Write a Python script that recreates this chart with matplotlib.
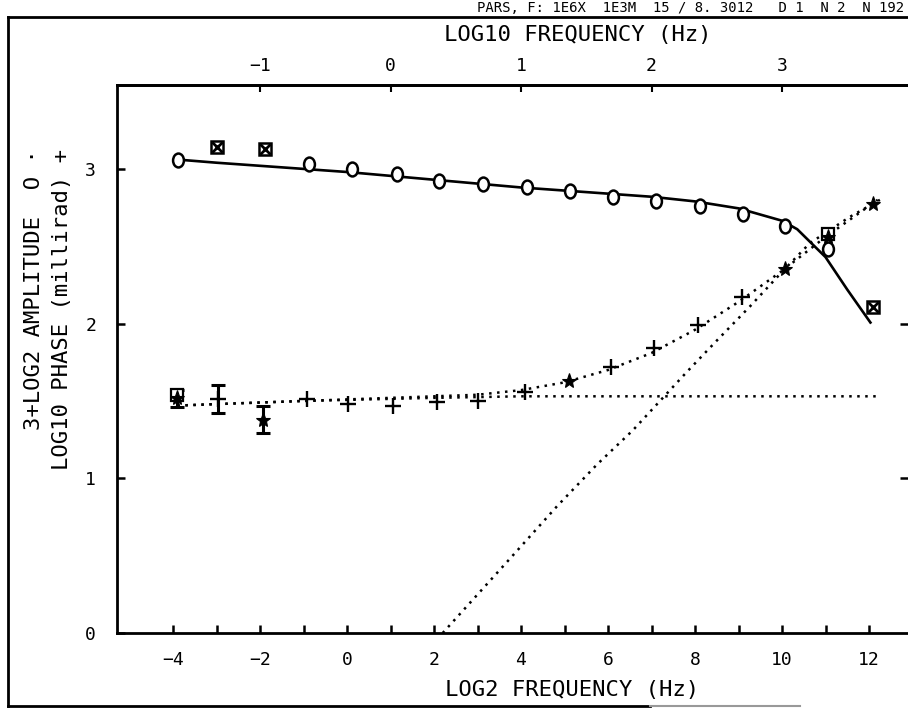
import matplotlib
matplotlib.use("Agg")
import matplotlib.pyplot as plt
from matplotlib.lines import Line2D
from matplotlib.path import Path
import numpy as np

# ---------------- data ----------------
# amplitude (3 + log2 amplitude): open circles and boxed crosses
amp_circle_x = [-3.88, -0.87, 0.11, 1.15, 2.11, 3.12, 4.13, 5.13, 6.11, 7.10, 8.11, 9.10, 10.08, 11.06]
amp_circle_y = [3.06, 3.03, 3.00, 2.97, 2.92, 2.90, 2.88, 2.86, 2.82, 2.79, 2.76, 2.71, 2.63, 2.48]
amp_box_x = [-2.99, -1.88, 12.09]
amp_box_y = [3.14, 3.13, 2.11]

# amplitude fit (solid line)
amp_fit_x = [-3.88, -3, -2, -1, 0, 1, 2, 3, 4, 5, 6, 7, 8, 9, 10, 10.35, 11, 11.5, 12.05]
amp_fit_y = [3.06, 3.04, 3.02, 3.00, 2.98, 2.955, 2.93, 2.905, 2.88, 2.86, 2.84, 2.82, 2.79,
             2.745, 2.665, 2.61, 2.43, 2.22, 2.00]

# phase (log10 phase, millirad): plus, star, boxed symbols, error bars
phase_plus_x = [-2.97, -0.92, 0.02, 1.06, 2.07, 3.00, 4.10, 6.07, 7.06, 8.07, 9.08]
phase_plus_y = [1.51, 1.51, 1.48, 1.47, 1.49, 1.50, 1.56, 1.72, 1.84, 1.99, 2.17]
phase_star_x = [-3.90, -1.93, 5.10, 10.07, 11.06, 12.10]
phase_star_y = [1.52, 1.38, 1.63, 2.35, 2.56, 2.77]
phase_box_x = [-3.90, 11.06]
phase_box_y = [1.54, 2.58]
err_x = [-3.90, -2.97, -1.93]
err_lo = [1.46, 1.42, 1.29]
err_hi = [1.57, 1.60, 1.47]
err_mid = [1.52, 1.51, 1.38]

# phase fit (dotted), flat asymptote (dotted), linear asymptote (dotted)
phase_fit_x = [-3.9, -3, -2, -1, 0, 1, 2, 3, 4, 5, 6, 7, 8, 9, 10, 11, 12.2]
phase_fit_y = [1.47, 1.48, 1.49, 1.50, 1.51, 1.52, 1.53, 1.54, 1.57, 1.62, 1.70, 1.81, 1.96,
               2.14, 2.34, 2.56, 2.80]
flat_x = [-3.9, -1, 2, 4, 8, 12.2]
flat_y = [1.47, 1.50, 1.52, 1.53, 1.53, 1.53]
lin_x = [2.2, 3.68, 4.83, 5.75, 6.57, 7.82, 8.5, 9.26, 10.02, 10.64, 11.56, 12.25]
lin_y = [0.0, 0.46, 0.82, 1.09, 1.31, 1.69, 1.89, 2.11, 2.34, 2.52, 2.69, 2.80]

# axis ticks
x_major = list(range(-4, 13))
x_labels = [("\u2212" + str(-v) if v < 0 else str(v)) if v % 2 == 0 else "" for v in x_major]
y_ticks = [0, 1, 2, 3]
right_ticks = [1, 2]
top_ticks = [-1, 0, 1, 2, 3]

# ---------------- figure ----------------
W, H = 908, 719
fig = plt.figure(figsize=(W / 100, H / 100), dpi=100)
fig.patch.set_facecolor("white")
FONT = "DejaVu Sans Mono"
plt.rcParams["font.family"] = FONT

def px(x, y):
    return x / W, 1 - y / H

ax_l, ax_r, ax_t, ax_b = 117, 908, 85, 633
ax = fig.add_axes([ax_l / W, 1 - ax_b / H, (ax_r - ax_l) / W, (ax_b - ax_t) / H])
x0 = (ax_l - 347) / 43.5
x1 = (ax_r - 347) / 43.5
ax.set_xlim(x0, x1)
ax.set_ylim(0, (ax_b - ax_t) / 154.7)

for s in ["left", "bottom", "top"]:
    ax.spines[s].set_linewidth(2.0)
ax.spines["right"].set_visible(False)

ax.set_xticks(x_major)
ax.set_xticklabels(x_labels, fontsize=13)
ax.set_yticks(y_ticks)
ax.set_yticklabels([str(v) for v in y_ticks], fontsize=13)
ax.tick_params(axis="x", direction="in", length=6, width=1.8, pad=13)
ax.tick_params(axis="y", direction="in", length=6, width=1.8, pad=15)

# right-hand ticks only (the right frame edge is outside the scan)
rax = ax.secondary_yaxis("right")
rax.set_yticks(right_ticks)
rax.set_yticklabels([])
rax.tick_params(direction="in", length=6, width=1.8)
rax.spines["right"].set_visible(False)

sec = ax.secondary_xaxis("top", functions=(lambda x: (np.asarray(x) - 1) / 3.0,
                                           lambda v: 3.0 * np.asarray(v) + 1))
sec.set_xticks(top_ticks)
sec.set_xticklabels([("\u2212" + str(-v) if v < 0 else str(v)) for v in top_ticks], fontsize=13)
sec.tick_params(direction="in", length=5, width=1.5, pad=7)
sec.spines["top"].set_linewidth(2.0)

# ---------------- lines ----------------
dot = (0, (1, 2.2))
ax.plot(amp_fit_x, amp_fit_y, color="black", lw=1.9, solid_capstyle="butt", zorder=3)
ax.plot(phase_fit_x, phase_fit_y, color="black", lw=1.8, linestyle=dot, dash_capstyle="butt", zorder=3)
ax.plot(flat_x, flat_y, color="black", lw=1.8, linestyle=dot, dash_capstyle="butt", zorder=3)
ax.plot(lin_x, lin_y, color="black", lw=1.8, linestyle=dot, dash_capstyle="butt", zorder=3)

# ---------------- markers ----------------
ell = Path.unit_circle()
ell = Path(ell.vertices * np.array([0.78, 1.0]), ell.codes)

ax.plot(amp_circle_x, amp_circle_y, linestyle="none", marker=ell, markersize=10,
        markerfacecolor="white", markeredgecolor="black", markeredgewidth=1.8, zorder=5)
ax.plot(amp_box_x, amp_box_y, linestyle="none", marker="s", markersize=8.5,
        markerfacecolor="white", markeredgecolor="black", markeredgewidth=1.8, zorder=5)
ax.plot(amp_box_x, amp_box_y, linestyle="none", marker="x", markersize=6.5,
        markeredgecolor="black", markeredgewidth=2.0, zorder=6)

ax.errorbar(err_x, err_mid, yerr=[np.array(err_mid) - np.array(err_lo),
                                  np.array(err_hi) - np.array(err_mid)],
            fmt="none", ecolor="black", elinewidth=2.2, capsize=5, capthick=2.2, zorder=5)
ax.plot(phase_plus_x, phase_plus_y, linestyle="none", marker="+", markersize=11,
        markeredgecolor="black", markeredgewidth=1.7, zorder=6)
ax.plot(phase_box_x, phase_box_y, linestyle="none", marker="s", markersize=8,
        markerfacecolor="white", markeredgecolor="black", markeredgewidth=1.6, zorder=6)
ax.plot(phase_star_x, phase_star_y, linestyle="none", marker="*", markersize=11,
        markerfacecolor="black", markeredgecolor="black", markeredgewidth=0.8, zorder=7)

# ---------------- texts ----------------
fig.text(*px(578, 35), "LOG10 FREQUENCY (Hz)", ha="center", va="center", fontsize=16, family=FONT)
fig.text(*px(572, 690), "LOG2 FREQUENCY (Hz)", ha="center", va="center", fontsize=16, family=FONT)
fig.text(*px(34, 149), "3+LOG2 AMPLITUDE  O \u00b7", rotation=90, ha="center", va="top",
         fontsize=16, family=FONT)
fig.text(*px(62, 149), "LOG10 PHASE (millirad) +", rotation=90, ha="center", va="top",
         fontsize=16, family=FONT)

# header line at the very top of the scanned page
fig.text(*px(904, 8), "PARS, F: 1E6X  1E3M  15 / 8. 3012   D 1  N 2  N 192", ha="right",
         va="center", fontsize=10, family=FONT)

# outer border of the scanned page
fig.add_artist(Line2D([8 / W, 1.0], [1 - 17 / H, 1 - 17 / H], color="black", lw=2.0))
fig.add_artist(Line2D([8 / W, 8 / W], [1 - 17 / H, 1 - 706 / H], color="black", lw=2.0))
fig.add_artist(Line2D([8 / W, 650 / W], [1 - 706 / H, 1 - 706 / H], color="black", lw=2.0))
fig.add_artist(Line2D([650 / W, 800 / W], [1 - 706 / H, 1 - 706 / H], color="#999999", lw=1.5))

fig.savefig("out.png", dpi=100, facecolor="white")
